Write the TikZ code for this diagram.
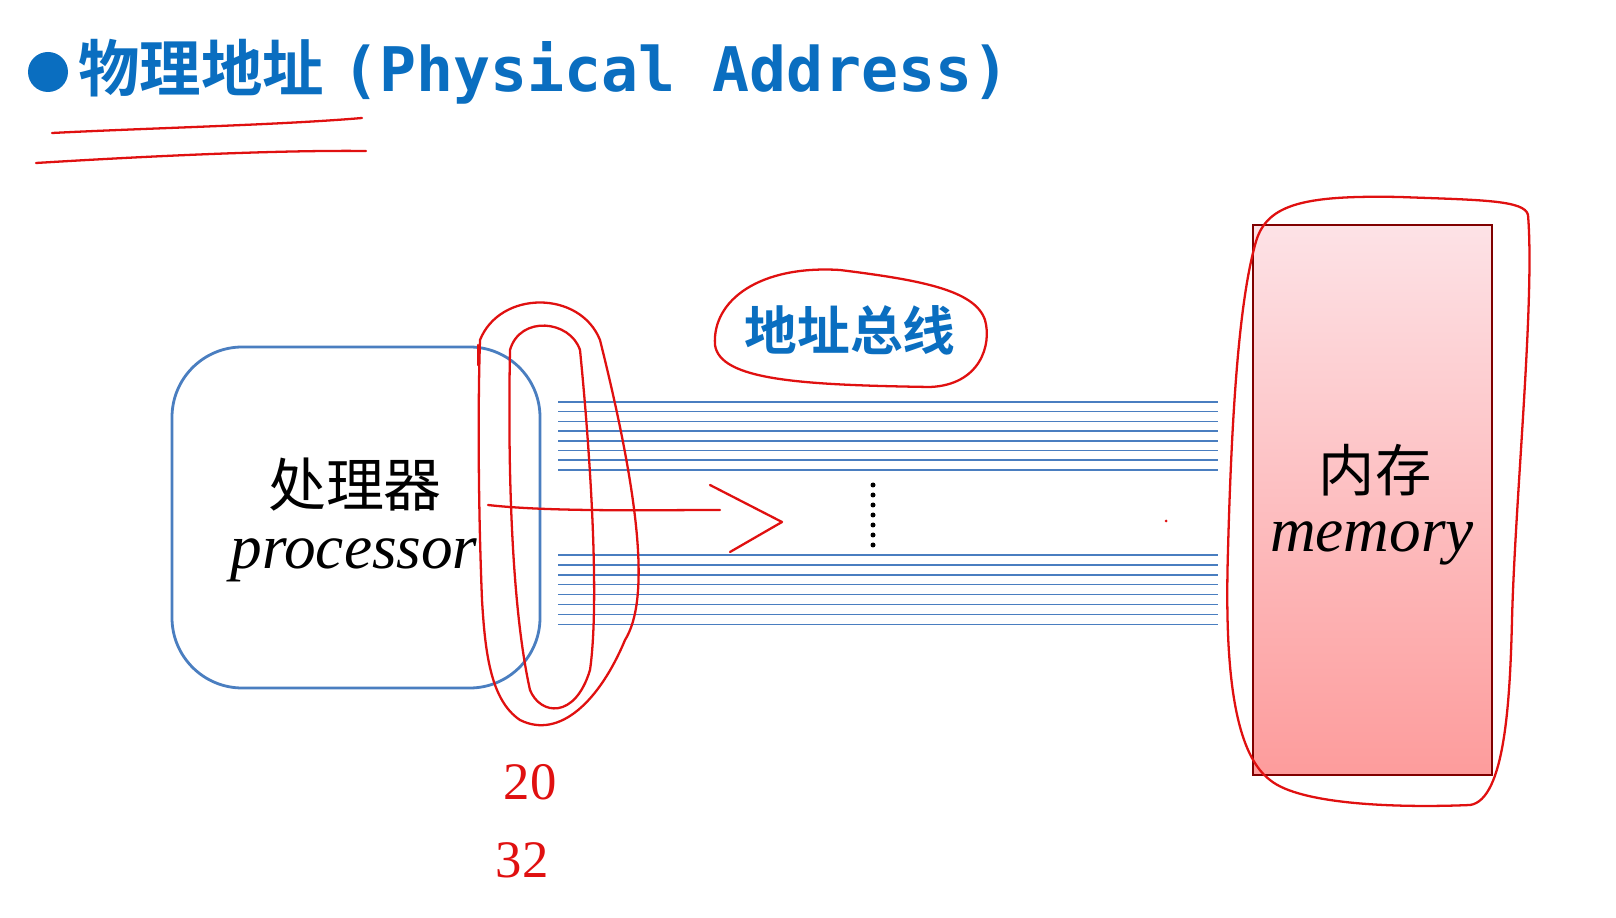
\documentclass[tikz,border=0pt]{standalone}
\usepackage{fontspec}
\setmainfont{Liberation Serif}
\newfontfamily\cjk{Noto Sans CJK SC}
\newfontfamily\cjkb{Noto Sans CJK SC Bold}
\newfontfamily\mono{DejaVu Sans Mono}
\definecolor{tblue}{HTML}{0A6EC0}
\definecolor{bblue}{HTML}{4A7EC0}
\definecolor{pen}{HTML}{E01010}
\definecolor{memtop}{HTML}{FDE2E6}
\definecolor{membot}{HTML}{FD9C9C}
\begin{document}
\begin{tikzpicture}[x=0.02cm,y=-0.02cm,
  ink/.style={draw=pen,line width=1.3pt,line cap=round,line join=round},
  bus/.style={draw=bblue,line width=0.8pt}]
\useasboundingbox (0,0) rectangle (1616,918);
\fill[white] (0,0) rectangle (1616,918);
% title
\fill[tblue] (48,72) circle (20);
\node[anchor=west,text=tblue,inner sep=0] (title) at (78,72)
 {\fontsize{35}{40}\selectfont{\cjkb 物理地址}\hspace{0.3em}{\mono\bfseries (Physical Address)}};
\draw[ink] (52,133) .. controls (150,128) and (280,125) .. (362,118);
\draw[ink] (36,163) .. controls (150,156) and (280,150) .. (366,151);
% processor
\node[draw=bblue,line width=1.6pt,rounded corners=40pt,minimum width=368*0.02cm,minimum height=341*0.02cm] (proc) at (356,517.5) {};
\node (pz) at (355,485) {\cjk\fontsize{33}{36}\selectfont 处理器};
\node (pe) at (354,560) {\itshape\fontsize{36}{40}\selectfont processor};
% bus
\foreach \i in {0,...,7}{\draw[bus] (558,{402+\i*9.7}) -- (1218,{402+\i*9.7});}
\foreach \i in {0,...,7}{\draw[bus] (558,{555+\i*9.9}) -- (1218,{555+\i*9.9});}
\foreach \y in {485,495,...,548}{\fill (873,\y) circle (2.5);}
\node[text=tblue] (busl) at (850,330) {\cjkb\fontsize{30}{34}\selectfont 地址总线};
% memory
\shade[top color=memtop,bottom color=membot] (1253,225) rectangle (1492,775);
\node[draw=red!50!black,line width=0.8pt,minimum width=239*0.02cm,minimum height=550*0.02cm] (mem) at (1372.5,500) {};
\node (mz) at (1375,470) {\cjk\fontsize{32}{36}\selectfont 内存};
\node (me) at (1372,543) {\itshape\fontsize{36}{40}\selectfont memory};
% annotations
\draw[ink] (480,340) .. controls (500,290) and (580,290) .. (600,340) .. controls (640,500) and (650,600) .. (625,640)
 .. controls (600,700) and (560,740) .. (520,720) .. controls (490,700) and (485,650) .. (482,600) .. controls (478,500) and (478,400) .. (480,340);
\draw[ink] (510,350) .. controls (520,315) and (570,320) .. (580,350) .. controls (590,450) and (600,600) .. (590,670)
 .. controls (575,720) and (540,715) .. (530,690) .. controls (510,600) and (508,450) .. (510,350);
\draw[ink] (478,345) -- (478,365);
\draw[ink] (488,505) .. controls (550,512) and (650,510) .. (720,510);
\draw[ink] (710,485) -- (782,522) -- (730,552);
\draw[ink] (840,270) .. controls (760,265) and (712,300) .. (715,345) .. controls (720,380) and (800,385) .. (930,387)
 .. controls (980,385) and (992,345) .. (985,320) .. controls (975,290) and (920,280) .. (840,270);
\draw[ink] (1255,245) .. controls (1265,205) and (1300,195) .. (1400,197) .. controls (1480,200) and (1525,200) .. (1528,215)
 .. controls (1535,300) and (1515,500) .. (1512,620) .. controls (1510,700) and (1505,800) .. (1470,805)
 .. controls (1400,808) and (1300,805) .. (1270,780) .. controls (1230,750) and (1225,650) .. (1228,550) .. controls (1232,400) and (1240,300) .. (1255,245);
\fill[pen] (1166,521) circle (1.5);
\node[text=pen] (n20) at (530,782) {\fontsize{30}{34}\selectfont 20};
\node[text=pen] (n32) at (522,860) {\fontsize{30}{34}\selectfont 32};
\end{tikzpicture}
\end{document}
